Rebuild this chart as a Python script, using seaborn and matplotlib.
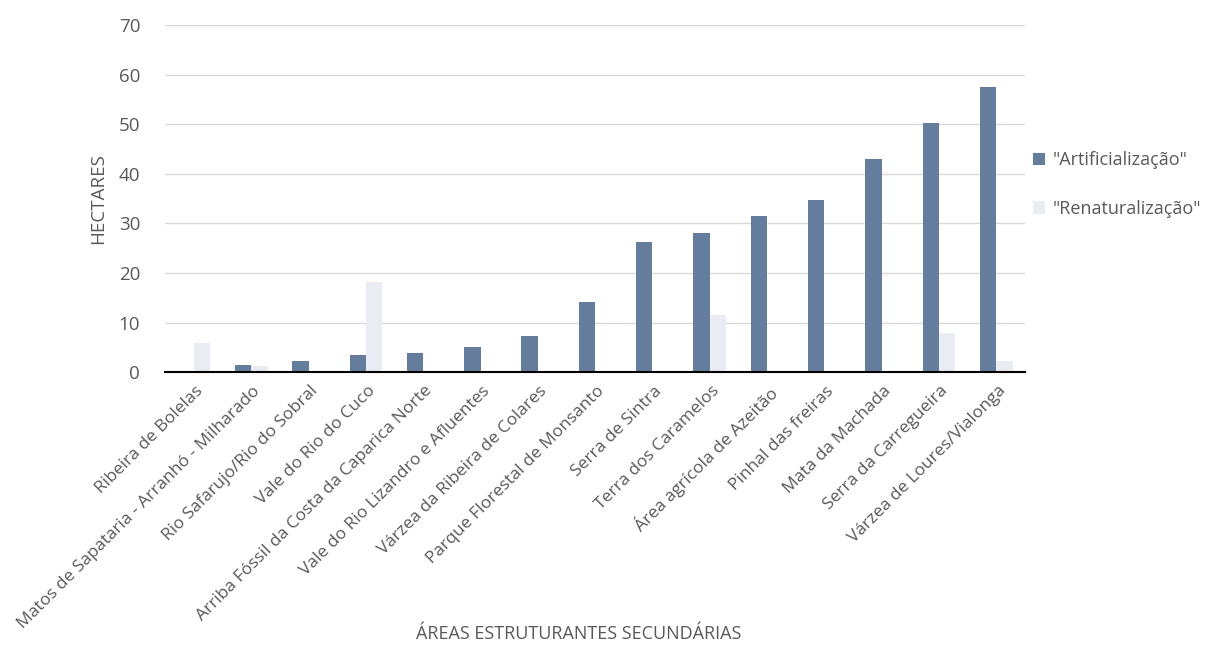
import numpy as np
import pandas as pd
import matplotlib
matplotlib.use("Agg")
import matplotlib.pyplot as plt
import matplotlib.transforms as mtransforms
import seaborn as sns

areas = ["Ribeira de Bolelas", "Matos de Sapataria - Arranhó - Milharado",
         "Rio Safarujo/Rio do Sobral", "Vale do Rio do Cuco",
         "Arriba Fóssil da Costa da Caparica Norte", "Vale do Rio Lizandro e Afluentes",
         "Várzea da Ribeira de Colares", "Parque Florestal de Monsanto",
         "Serra de Sintra", "Terra dos Caramelos", "Área agrícola de Azeitão",
         "Pinhal das freiras", "Mata da Machada", "Serra da Carregueira",
         "Várzea de Loures/Vialonga"]
artificializacao = [0, 1.4, 2.2, 3.4, 3.8, 5.0, 7.3, 14.2, 26.2, 28.0, 31.4, 34.7, 42.9, 50.2, 57.6]
renaturalizacao = [5.9, 1.2, 0, 18.1, 0, 0, 0, 0, 0, 11.5, 0, 0, 0, 7.9, 2.3]
series = ['"Artificialização"', '"Renaturalização"']

df = pd.DataFrame({
    "area": areas * 2,
    "serie": [series[0]] * len(areas) + [series[1]] * len(areas),
    "valor": artificializacao + renaturalizacao,
})

sns.set_style("white")
plt.rcParams["font.family"] = ["Open Sans", "DejaVu Sans"]
grey = "#595959"

fig = plt.figure(figsize=(12.06, 6.46), dpi=100)
ax = fig.add_axes([0.137, 0.424, 0.713, 0.537])

sns.barplot(data=df, x="area", y="valor", hue="serie", order=areas,
            palette=["#657d9c", "#e9edf3"], width=0.57, gap=0,
            saturation=1, linewidth=0, ax=ax)

ax.set_xlim(-0.5, len(areas) - 0.5)
ax.set_ylim(0, 70)
ax.set_yticks(np.arange(0, 71, 10))
ax.yaxis.grid(True, color="#d9d9d9", linewidth=1)
ax.set_axisbelow(True)
for s in ["top", "right", "left"]:
    ax.spines[s].set_visible(False)
ax.spines["bottom"].set_color("black")
ax.spines["bottom"].set_linewidth(1.5)

ax.tick_params(axis="y", length=0, labelsize=13.5, labelcolor=grey, pad=18)
ax.set_xticks(np.arange(-0.5, len(areas)), minor=True)
ax.tick_params(axis="x", which="minor", length=6, width=1.5, color="black", direction="out")
ax.tick_params(axis="x", which="major", length=0)
ax.set_xticks(range(len(areas)))
offset = mtransforms.ScaledTranslation(1 / 100, -6 / 100, fig.dpi_scale_trans)
ax.set_xticklabels(areas, rotation=45, ha="right", va="top", rotation_mode="anchor",
                   fontsize=12.5, color=grey)
for lbl in ax.get_xticklabels():
    lbl.set_transform(lbl.get_transform() + offset)

ax.set_ylabel("HECTARES", fontsize=13.5, color=grey, labelpad=8)
ax.set_xlabel("")
fig.text(0.48, 0.005, "ÁREAS ESTRUTURANTES SECUNDÁRIAS", ha="center", va="bottom",
         fontsize=13, color=grey)

leg = ax.legend(loc="center left", bbox_to_anchor=(0.99, 0.54), frameon=False,
                fontsize=13, labelcolor=grey, handlelength=0.7, handleheight=0.7,
                labelspacing=1.7, handletextpad=0.4)

fig.savefig("out.png", dpi=100)
